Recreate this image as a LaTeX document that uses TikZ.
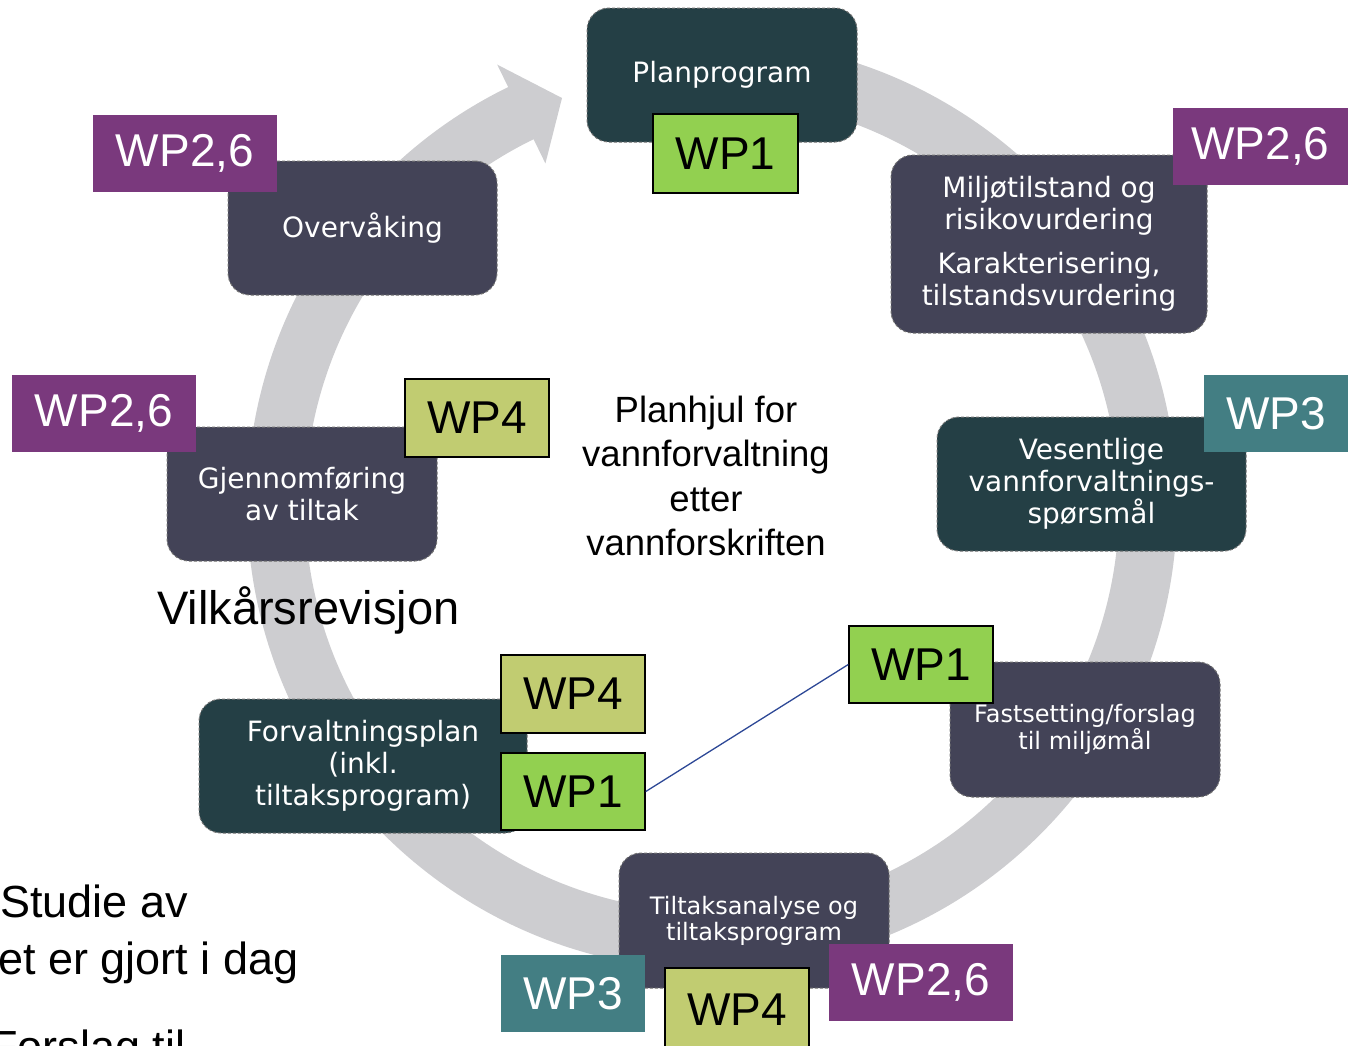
\documentclass[tikz,border=0pt]{standalone}
\usepackage{fontspec}
\setmainfont{Liberation Sans}
\newfontfamily\boxfont{DejaVu Sans}
\usetikzlibrary{positioning}
\usetikzlibrary{calc}

\definecolor{ringgrey}{RGB}{205,205,208}
\definecolor{boxteal}{RGB}{36,63,69}
\definecolor{boxslate}{RGB}{67,67,87}
\definecolor{wppurple}{RGB}{122,57,125}
\definecolor{wpteal}{RGB}{67,126,131}
\definecolor{wpgreen}{RGB}{146,208,80}
\definecolor{wpolive}{RGB}{193,204,113}
\definecolor{linkblue}{RGB}{45,72,150}

\begin{document}
\begin{tikzpicture}[x=1pt,y=1pt,semithick,every node/.style={inner sep=0pt}]
		\tikzstyle{stepbox}=[draw=black!55,densely dashed,line width=1pt,rounded corners=22pt,align=center,text=white,font=\boxfont\fontsize{28}{32}\selectfont]
		\tikzstyle{darkbox}=[stepbox,fill=boxteal]
		\tikzstyle{greybox}=[stepbox,fill=boxslate]
		\tikzstyle{wp}=[minimum width=144pt,minimum height=77pt,font=\fontsize{46}{50}\selectfont]
		\tikzstyle{wpone}=[wp,fill=wpgreen,draw=black,line width=1.5pt]
		\tikzstyle{wpfour}=[wp,fill=wpolive,draw=black,line width=1.5pt]
		\tikzstyle{wpthree}=[wp,fill=wpteal,text=white]
		\tikzstyle{wptwo}=[wp,fill=wppurple,text=white,minimum width=184pt]
		
		\clip (0,0) rectangle (1348,-1045);
		
		% the wheel
		\coordinate (ctr) at (712,-505);
		\coordinate (tip) at (562,-98);
		\draw[ringgrey,line width=58pt] (ctr) ++(95:436) arc[start angle=95,end angle=-244.5,radius=436];
		\fill[ringgrey] ($(ctr)+(116:490)$) -- (tip) -- ($(ctr)+(116:380)$) -- cycle;
		
		\node[darkbox,minimum width=270pt,minimum height=134pt] (plan)   at (722,-75)      {Planprogram};
		\node[greybox,minimum width=316pt,minimum height=178pt] (milj)   at (1049,-244)    {Miljøtilstand og\\risikovurdering\\[12pt]Karakterisering,\\tilstandsvurdering};
		\node[darkbox,minimum width=309pt,minimum height=134pt] (vesent) at (1091.5,-484)  {Vesentlige\\vannforvaltnings-\\spørsmål};
		\node[greybox,minimum width=270pt,minimum height=135pt,font=\boxfont\fontsize{24}{26}\selectfont] (fast) at (1085,-729.5) {Fastsetting/forslag\\til miljømål};
		\node[greybox,minimum width=270pt,minimum height=135pt,font=\boxfont\fontsize{24}{26}\selectfont] (tilt) at (754,-920.5)  {Tiltaksanalyse og\\tiltaksprogram};
		\node[darkbox,minimum width=328pt,minimum height=134pt] (forv)   at (363,-766)     {Forvaltningsplan\\(inkl.\\tiltaksprogram)};
		\node[greybox,minimum width=270pt,minimum height=134pt] (gjen)   at (302,-494)     {Gjennomføring\\av tiltak};
		\node[greybox,minimum width=269pt,minimum height=134pt] (overv)  at (362.5,-228)   {Overvåking};
		
		% work packages
		\node[wpone,minimum width=145pt,minimum height=79pt] (wpplan) at (725.5,-153.5) {WP1};
		\node[wptwo,minimum width=175pt] (wpmilj)  at (1260.5,-146.5) {WP2,6};
		\node[wptwo]                     (wpoverv) at (185,-153.5)    {WP2,6};
		\node[wpthree]                   (wpves)   at (1276,-413.5)   {WP3};
		\node[wptwo]                     (wpgjen)  at (104,-413.5)    {WP2,6};
		\node[wpfour,minimum height=78pt] (wpgjenb) at (477,-418)     {WP4};
		\node[wpfour,minimum height=78pt] (wpforv)  at (573,-694)     {WP4};
		\node[wpone]                     (wpforvb) at (573,-791.5)    {WP1};
		\node[wpone]                     (wpfast)  at (921,-664.5)    {WP1};
		\node[wpthree]                   (wptilt)  at (573,-993.5)    {WP3};
		\node[wpfour,minimum height=84pt] (wptiltb) at (737,-1010)    {WP4};
		\node[wptwo]                     (wptiltc) at (921,-982.5)    {WP2,6};
		
		\draw[linkblue,line width=1.3pt] (wpforvb.east) -- (wpfast.west);
		
		\node[align=center,font=\fontsize{36.5}{44.5}\selectfont] (title) at (706,-476) {Planhjul for\\vannforvaltning\\etter\\vannforskriften};
		\node[anchor=base west,font=\fontsize{47}{52}\selectfont] (vilk) at (157,-624) {Vilkårsrevisjon};
		\node[anchor=base west,font=\fontsize{45}{50}\selectfont] (stud)  at (0,-917)    {Studie av};
		\node[anchor=base west,font=\fontsize{45}{50}\selectfont] (studb) at (-2,-974)   {et er gjort i dag};
		\node[anchor=base west,font=\fontsize{45}{50}\selectfont] (forsl) at (-10,-1062) {Forslag til};
\end{tikzpicture}
\end{document}
